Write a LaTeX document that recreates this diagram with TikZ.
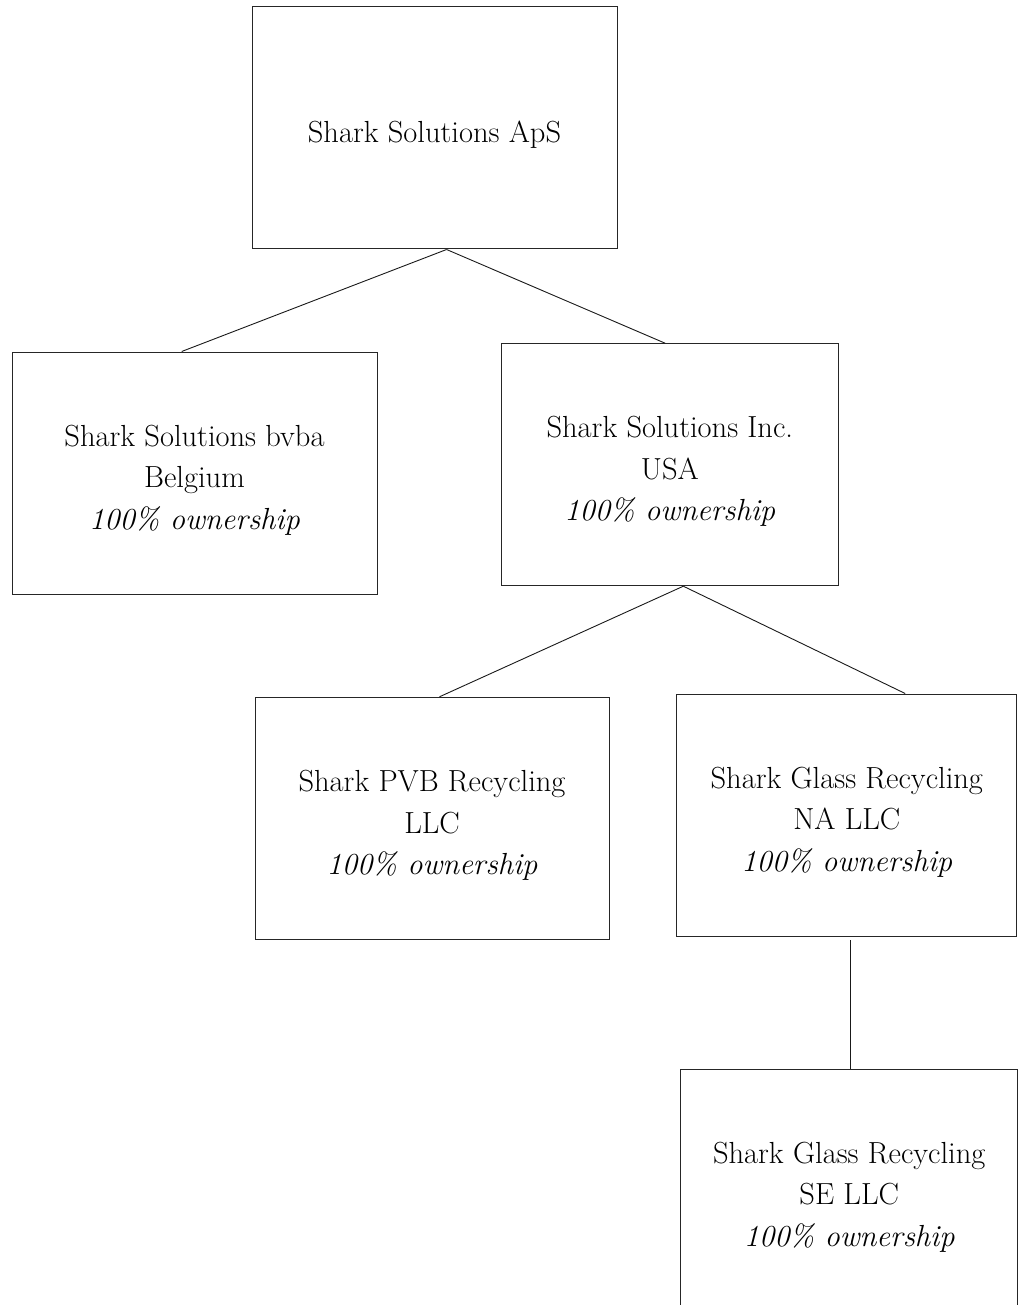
\documentclass[tikz,border=0pt]{standalone}
\usetikzlibrary{calc}
\begin{document}
\begin{tikzpicture}[x=1pt,y=-1pt,
  orgbox/.style={draw=black!85,line width=1pt,rectangle,inner sep=0pt,minimum height=242pt},
  orgtext/.style={align=center,font=\fontsize{30.5}{41.5}\selectfont,inner sep=0pt,yshift=-7pt},
  link/.style={draw=black!90,line width=0.9pt}]
\useasboundingbox (0,0) rectangle (1024,1305);
\clip (0,0) rectangle (1024,1305);
% boxes
\node[orgbox,minimum width=365pt] (top) at (434.5,128) {};
\node[orgbox,minimum width=365pt] (bel) at (194.5,473) {};
\node[orgbox,minimum width=337pt] (usa) at (669.8,464.7) {};
\node[orgbox,minimum width=354pt] (pvb) at (432,818.3) {};
\node[orgbox,minimum width=340.3pt] (na) at (846.8,815) {};
\node[orgbox,minimum width=337pt] (se) at (849.2,1190) {};
% texts
\node[orgtext] (ttop) at (top.center) {Shark Solutions ApS};
\node[orgtext] (tbel) at (bel.center) {Shark Solutions bvba\\Belgium\\\textit{100\% ownership}};
\node[orgtext] (tusa) at (usa.center) {Shark Solutions Inc.\\USA\\\textit{100\% ownership}};
\node[orgtext] (tpvb) at (pvb.center) {Shark PVB Recycling\\LLC\\\textit{100\% ownership}};
\node[orgtext] (tna) at (na.center) {Shark Glass Recycling\\NA LLC\\\textit{100\% ownership}};
\node[orgtext] (tse) at (se.center) {Shark Glass Recycling\\SE LLC\\\textit{100\% ownership}};
% connectors
\coordinate (topS) at ($(top.south west)!0.533!(top.south east)$);
\coordinate (usaS) at ($(usa.south west)!0.540!(usa.south east)$);
\draw[link] (topS) -- ($(bel.north west)!0.465!(bel.north east)$);
\draw[link] (topS) -- ($(usa.north west)!0.486!(usa.north east)$);
\draw[link] (usaS) -- ($(pvb.north west)!0.521!(pvb.north east)$);
\draw[link] (usaS) -- ($(na.north west)!0.671!(na.north east)$);
\coordinate (naS) at ($(na.south -| se.north)+(1,3.5)$);
\draw[link] (naS) -- (naS |- se.north);
\end{tikzpicture}
\end{document}
